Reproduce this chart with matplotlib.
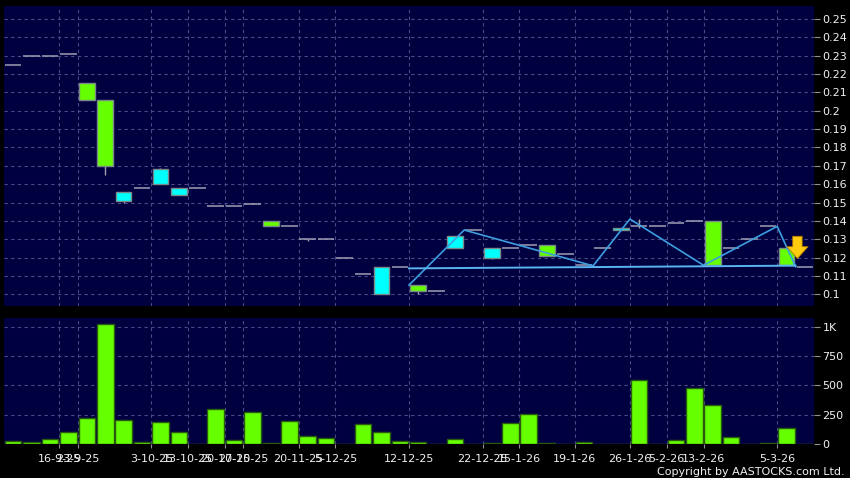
import numpy as np
import matplotlib
matplotlib.use("Agg")
import matplotlib.pyplot as plt

# daily candles, oldest first (price in HKD)
opens = [0.225, 0.230, 0.230, 0.231, 0.215, 0.206, 0.151, 0.158, 0.160, 0.154,
         0.158, 0.148, 0.148, 0.149, 0.140, 0.137, 0.130, 0.130, 0.120, 0.111,
         0.100, 0.115, 0.105, 0.102, 0.125, 0.135, 0.120, 0.125, 0.127, 0.127,
         0.122, 0.116, 0.125, 0.135, 0.137, 0.137, 0.139, 0.140, 0.140, 0.125,
         0.130, 0.137, 0.125, 0.115]
closes = [0.225, 0.230, 0.230, 0.231, 0.206, 0.170, 0.156, 0.158, 0.168, 0.158,
          0.158, 0.148, 0.148, 0.149, 0.137, 0.137, 0.130, 0.130, 0.120, 0.111,
          0.115, 0.115, 0.102, 0.102, 0.132, 0.135, 0.125, 0.125, 0.127, 0.121,
          0.122, 0.116, 0.125, 0.136, 0.137, 0.137, 0.139, 0.140, 0.116, 0.125,
          0.130, 0.137, 0.116, 0.115]
highs = [0.225, 0.230, 0.230, 0.231, 0.215, 0.206, 0.156, 0.158, 0.169, 0.158,
         0.158, 0.148, 0.148, 0.150, 0.140, 0.137, 0.130, 0.130, 0.120, 0.111,
         0.115, 0.115, 0.105, 0.102, 0.132, 0.135, 0.125, 0.125, 0.127, 0.127,
         0.122, 0.116, 0.125, 0.136, 0.141, 0.137, 0.139, 0.140, 0.140, 0.125,
         0.130, 0.137, 0.125, 0.115]
lows = [0.225, 0.230, 0.230, 0.231, 0.206, 0.165, 0.150, 0.158, 0.160, 0.154,
        0.158, 0.148, 0.148, 0.149, 0.137, 0.137, 0.129, 0.130, 0.120, 0.111,
        0.100, 0.115, 0.100, 0.102, 0.125, 0.135, 0.119, 0.125, 0.127, 0.121,
        0.122, 0.116, 0.125, 0.135, 0.136, 0.137, 0.139, 0.140, 0.116, 0.125,
        0.130, 0.137, 0.116, 0.115]
volumes = [29, 20, 40, 100, 221, 1020, 201, 20, 190, 103,
           3, 299, 34, 273, 8, 198, 66, 49, 2, 167,
           106, 23, 17, 2, 46, 0, 11, 175, 259, 11,
           0, 20, 0, 0, 543, 0, 34, 474, 336, 63,
           0, 9, 138, 0]

# date labels sit between candles
tick_pos = [2.5, 3.5, 7.5, 9.5, 11.5, 12.5, 15.5, 17.5, 21.5, 25.5,
            27.5, 30.5, 33.5, 35.5, 37.5, 41.5]
tick_labels = ["16-9-25", "23-9-25", "3-10-25", "13-10-25", "20-10-25", "27-10-25",
               "20-11-25", "5-12-25", "12-12-25", "22-12-25", "15-1-26", "19-1-26",
               "26-1-26", "5-2-26", "13-2-26", "5-3-26"]

# pattern lines drawn by the site
zig_x = [21.5, 24.5, 31.5, 33.5, 37.5, 41.5, 42.5]
zig_y = [0.105, 0.135, 0.1155, 0.141, 0.1158, 0.137, 0.115]
support_x = [21.5, 42.5]
support_y = [0.1141, 0.1156]
arrow_x = 42.6
arrow_from, arrow_to = 0.1316, 0.1195

price_ticks = [round(0.10 + 0.01 * i, 2) for i in range(16)]
vol_ticks = [0, 250, 500, 750, 1000]
vol_tick_labels = ["0", "250", "500", "750", "1K"]

BG = "#000040"
GRID = "#4a4a86"
GREEN = "#66ff00"
CYAN = "#00ffff"
TXT = "#f0f0f0"

fig = plt.figure(figsize=(8.5, 4.78), dpi=100, facecolor="black")
ax = fig.add_axes([4 / 850, 1 - 306 / 478, 810 / 850, 300 / 478])
axv = fig.add_axes([4 / 850, 1 - 444 / 478, 810 / 850, 125.7 / 478], sharex=ax)

x = np.arange(len(opens))
o = np.array(opens); c = np.array(closes); h = np.array(highs); l = np.array(lows)

# wicks
ax.vlines(x, l, h, color="#a0a0a8", lw=1, zorder=2)
flat = o == c
ax.hlines(o[flat], x[flat] - 0.45, x[flat] + 0.45, color="#a0a0b4", lw=1.1, zorder=3)
body = ~flat
cols = np.where(c[body] < o[body], GREEN, CYAN)
ax.bar(x[body], np.abs(c[body] - o[body]), bottom=np.minimum(o[body], c[body]),
       width=0.85, color=cols, edgecolor="#7a8a8a", lw=1, zorder=3)

ax.plot(zig_x, zig_y, color="#3d9fe0", lw=1.2, zorder=4)
ax.plot(support_x, support_y, color="#5ab4f0", lw=1.4, zorder=4)
ax.annotate("", xy=(arrow_x, arrow_to), xytext=(arrow_x, arrow_from),
            arrowprops=dict(arrowstyle="simple,head_length=0.5,head_width=0.9,tail_width=0.4",
                            fc="#ffcc10", ec="#b07800", lw=0.6, mutation_scale=17,
                            shrinkA=0, shrinkB=0), zorder=5)

axv.bar(x, volumes, width=0.9, color=GREEN, edgecolor="#2a5a10", lw=1, zorder=3)

for a in (ax, axv):
    a.set_facecolor(BG)
    for s in a.spines.values():
        s.set_visible(False)
    a.yaxis.tick_right()
    a.tick_params(axis="y", colors="#909090", labelcolor=TXT, labelsize=8, length=4, pad=2)
    a.grid(True, color=GRID, ls=(0, (3, 3)), lw=0.8)
    a.set_axisbelow(True)

ax.set_xlim(-0.5, 43.5)
ax.set_ylim(0.0936, 0.2571)
ax.set_yticks(price_ticks)
ax.set_yticklabels([f"{v:g}" for v in price_ticks])
ax.set_xticks(tick_pos)
ax.tick_params(axis="x", length=0, labelbottom=False)

axv.set_ylim(0, 1072)
axv.set_yticks(vol_ticks)
axv.set_yticklabels(vol_tick_labels)
axv.set_xticks(tick_pos)
axv.set_xticklabels(tick_labels)
axv.tick_params(axis="x", colors="#909090", labelcolor=TXT, labelsize=8, length=3, pad=4)

fig.text(845 / 850, 1 - 472 / 478, "Copyright by AASTOCKS.com Ltd.", color=TXT,
         fontsize=8, ha="right", va="center")

fig.savefig("out.png", dpi=100, facecolor="black")
